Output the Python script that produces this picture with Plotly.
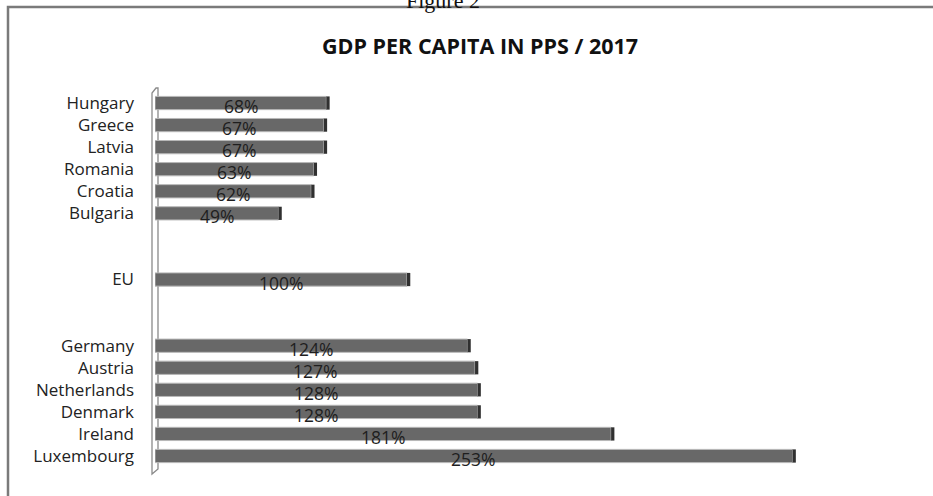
import plotly.graph_objects as go

# Data (top to bottom as displayed)
countries = ["Hungary", "Greece", "Latvia", "Romania", "Croatia", "Bulgaria",
             "EU",
             "Germany", "Austria", "Netherlands", "Denmark", "Ireland", "Luxembourg"]
values = [68, 67, 67, 63, 62, 49,
          100,
          124, 127, 128, 128, 181, 253]
labels = ["68%", "67%", "67%", "63%", "62%", "49%",
          "100%",
          "124%", "127%", "128%", "128%", "181%", "253%"]

# category order on axis from top to bottom, with blank spacer slots
cat_top_to_bottom = ["Hungary", "Greece", "Latvia", "Romania", "Croatia", "Bulgaria",
                     " ", "  ", "EU", "   ", "    ",
                     "Germany", "Austria", "Netherlands", "Denmark", "Ireland", "Luxembourg"]

W, H = 933, 496
L, R, T, B = 155, 22, 92, 23
PW, PH = W - L - R, H - T - B
XMAX = PW / 2.52


def px(x):
    return (x - L) / PW


def py(y):
    return (H - B - y) / PH


CAP = 1.3  # end-cap thickness in data units

fig = go.Figure()
fig.add_trace(go.Bar(
    y=countries, x=values, orientation="h", width=0.6,
    marker=dict(color="#686868", line=dict(color="#b8b8b8", width=1)),
    hoverinfo="skip",
))
fig.add_trace(go.Bar(
    y=countries, x=[CAP] * len(values), base=values, orientation="h", width=0.6,
    marker=dict(color="#303030", line=dict(width=0)), hoverinfo="skip",
))

annotations = [
    dict(x=v / 2, y=c, text=t, xref="x", yref="y", showarrow=False,
         xanchor="center", yanchor="middle", yshift=-3,
         font=dict(family="Open Sans", size=17.5, color="#1e1e1e"))
    for c, v, t in zip(countries, values, labels)
]
annotations += [
    dict(text="<b>GDP PER CAPITA IN PPS / 2017</b>", xref="paper", yref="paper",
         x=px(480), y=py(46), xanchor="center", yanchor="middle", showarrow=False,
         font=dict(family="Open Sans", size=21.5, color="#111111")),
    dict(text="Figure 2", xref="paper", yref="paper",
         x=px(443), y=py(15), xanchor="center", yanchor="bottom", showarrow=False,
         font=dict(family="Liberation Serif", size=22, color="#111111")),
]

shapes = [
    # outer frame
    dict(type="rect", xref="paper", yref="paper",
         x0=px(8), x1=px(940), y0=py(503), y1=py(7),
         line=dict(color="#7a7a7a", width=2.5), fillcolor="rgba(0,0,0,0)", layer="below"),
    # 3D wall of the vertical axis
    dict(type="path", xref="paper", yref="paper",
         path=(f"M {px(152)},{py(474)} L {px(152)},{py(93)} L {px(156)},{py(88)} "
               f"L {px(158)},{py(88)} L {px(158)},{py(469)} Z"),
         line=dict(color="#8a8a8a", width=1.3), fillcolor="rgba(0,0,0,0)", layer="below"),
]

fig.update_layout(
    width=W, height=H,
    margin=dict(l=L, r=R, t=T, b=B),
    paper_bgcolor="white", plot_bgcolor="white",
    barmode="overlay", showlegend=False,
    shapes=shapes, annotations=annotations,
    xaxis=dict(range=[0, XMAX], visible=False, fixedrange=True),
    yaxis=dict(categoryorder="array", categoryarray=list(reversed(cat_top_to_bottom)),
               tickfont=dict(family="Open Sans", size=17, color="#222222"),
               showgrid=False, zeroline=False, showline=False, ticks="",
               ticklabelstandoff=20, fixedrange=True),
)

fig.write_html("out.html", config={"displayModeBar": False},
               post_script="document.body.style.margin='0';document.body.style.overflow='hidden';")
